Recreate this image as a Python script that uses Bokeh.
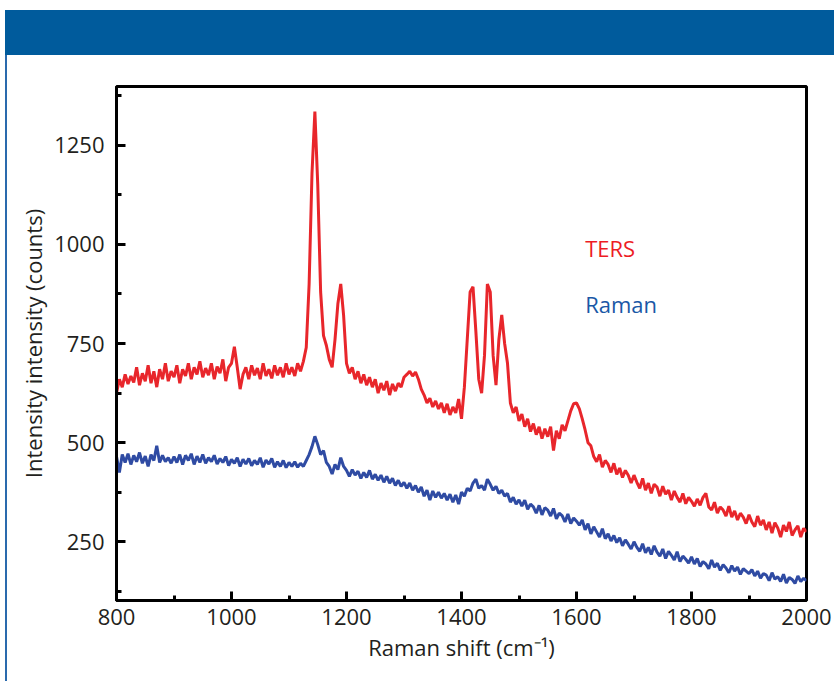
from bokeh.plotting import figure
from bokeh.models import Label, FixedTicker, Range1d, Div
from bokeh.layouts import column, row
from bokeh.embed import file_html
from bokeh.resources import INLINE

# Raman shift axis (cm^-1), sampled every 5 cm^-1
shift = list(range(800, 2001, 5))

# Tip-enhanced Raman spectrum (counts)
ters = [
    625, 660, 640, 672, 648, 668, 652, 690, 645, 675, 655, 695, 650, 680, 640, 685, 660, 700, 655, 680, 665,
    695, 650, 685, 668, 700, 660, 690, 672, 705, 665, 688, 670, 700, 660, 692, 675, 710, 655, 690, 700,
    742, 690, 635, 672, 690, 660, 695, 670, 688, 660, 700, 668, 685, 662, 695, 670, 690, 665, 700, 672,
    690, 668, 700, 680, 705, 740, 900, 1180, 1335, 1150, 880, 770, 745, 710, 690, 760, 850, 900, 820, 700,
    675, 690, 660, 680, 650, 672, 645, 665, 640, 660, 625, 650, 632, 655, 620, 648, 630, 650, 640, 665,
    672, 680, 668, 678, 660, 635, 620, 600, 612, 590, 605, 585, 600, 575, 598, 570, 590, 575, 610, 560,
    640, 760, 880, 893, 780, 660, 625, 720, 900, 880, 720, 645, 760, 822, 750, 700, 600, 575, 590, 555,
    572, 540, 560, 528, 548, 520, 540, 510, 535, 515, 540, 480, 530, 510, 545, 530, 555, 580, 598, 600,
    585, 560, 532, 500, 492, 465, 452, 470, 438, 455, 445, 425, 448, 420, 436, 412, 430, 418, 398, 418,
    400, 385, 410, 380, 398, 372, 395, 388, 365, 390, 370, 380, 355, 378, 362, 350, 372, 346, 362, 352,
    340, 358, 342, 362, 372, 338, 330, 350, 322, 338, 330, 315, 340, 312, 328, 305, 322, 312, 296, 318,
    300, 288, 315, 292, 305, 280, 300, 272, 298, 285, 262, 292, 276, 300, 266, 280, 290, 262, 284, 275,
]

# Conventional far-field Raman spectrum (counts)
raman = [
    465, 425, 470, 450, 472, 445, 468, 452, 475, 448, 466, 440, 470, 455, 492, 450, 468, 452, 462, 448, 465,
    450, 470, 445, 468, 455, 472, 445, 466, 450, 470, 448, 462, 452, 468, 446, 460, 450, 465, 442, 458,
    448, 462, 440, 458, 446, 460, 442, 455, 445, 462, 438, 456, 446, 460, 438, 452, 440, 455, 437, 450,
    440, 452, 438, 448, 440, 455, 470, 490, 516, 495, 470, 480, 450, 440, 421, 445, 432, 462, 440, 430,
    415, 432, 418, 428, 410, 425, 412, 430, 408, 420, 405, 418, 400, 415, 398, 410, 392, 405, 390, 400,
    385, 398, 380, 392, 375, 388, 365, 380, 355, 378, 362, 375, 360, 372, 355, 370, 350, 368, 345, 375,
    365, 385, 378, 398, 408, 385, 392, 380, 408, 395, 380, 390, 372, 380, 365, 372, 350, 362, 345, 356,
    340, 355, 332, 345, 338, 322, 342, 318, 336, 330, 315, 334, 308, 322, 316, 300, 320, 296, 310, 302,
    292, 305, 280, 296, 270, 288, 275, 262, 283, 258, 270, 252, 266, 248, 260, 240, 255, 244, 232, 250,
    236, 226, 245, 222, 236, 218, 240, 224, 214, 232, 208, 226, 216, 204, 225, 200, 214, 206, 196, 212,
    194, 208, 188, 200, 194, 182, 204, 186, 196, 178, 192, 184, 172, 190, 176, 186, 168, 182, 176, 170,
    180, 164, 176, 158, 170, 166, 152, 172, 156, 162, 150, 168, 146, 160, 155, 145, 164, 150, 158, 152,
]

x_major = [800, 1000, 1200, 1400, 1600, 1800, 2000]
x_minor = [900, 1100, 1300, 1500, 1700, 1900]
y_major = [250, 500, 750, 1000, 1250]
y_minor = [125, 375, 625, 875, 1125, 1375]

FONT = "Open Sans"
TEXT = "#231f20"
RED = "#e8262b"
BLUE = "#2f4ba3"
BAND = "#005b9c"
RULE = "#2a6aad"

p = figure(
    width=827, height=626,
    x_range=Range1d(800, 2000), y_range=Range1d(102, 1398),
    output_backend="svg", toolbar_location=None,
    min_border_left=109, min_border_right=28,
    min_border_top=31, min_border_bottom=81,
    margin=0,
)
p.background_fill_color = "white"
p.border_fill_color = "white"
p.xgrid.visible = False
p.ygrid.visible = False
p.outline_line_color = "black"
p.outline_line_width = 3

p.line(shift, ters, line_color=RED, line_width=3)
p.line(shift, raman, line_color=BLUE, line_width=3)

for ax, major, minor in ((p.xaxis[0], x_major, x_minor), (p.yaxis[0], y_major, y_minor)):
    ax.ticker = FixedTicker(ticks=major, minor_ticks=minor)
    ax.axis_line_color = "black"
    ax.axis_line_width = 3
    ax.major_tick_line_color = "black"
    ax.major_tick_line_width = 3
    ax.minor_tick_line_color = "black"
    ax.minor_tick_line_width = 3
    ax.major_tick_in = 9
    ax.major_tick_out = 0
    ax.minor_tick_in = 5
    ax.minor_tick_out = 0
    ax.major_label_text_font = FONT
    ax.major_label_text_font_size = "22px"
    ax.major_label_text_color = TEXT
    ax.axis_label_text_font = FONT
    ax.axis_label_text_font_size = "22px"
    ax.axis_label_text_font_style = "normal"
    ax.axis_label_text_color = TEXT

p.xaxis.axis_label = "Raman shift (cm\u207b\u00b9)"
p.yaxis.axis_label = "Intensity intensity (counts)"
p.xaxis.major_label_standoff = 8
p.yaxis.major_label_standoff = 12
p.xaxis.axis_label_standoff = 4
p.yaxis.axis_label_standoff = 3

p.add_layout(Label(x=1615, y=990, text="TERS", text_font=FONT, text_font_size="22px",
                   text_color="#ed1c24", text_baseline="alphabetic"))
p.add_layout(Label(x=1615, y=849, text="Raman", text_font=FONT, text_font_size="22px",
                   text_color="#1a58a6", text_baseline="alphabetic"))

# header band across the top of the panel
header = Div(width=834, height=55, margin=0,
             text=f'<div style="position:absolute;left:5px;top:10px;width:829px;height:45px;background-color:{BAND};"></div>')
# thin rule down the left edge of the panel
gap = Div(width=5, height=626, margin=0, text="")
rule = Div(width=2, height=626, margin=0,
           text=f'<div style="width:2px;height:626px;background-color:{RULE};"></div>')

page = column(header, row(gap, rule, p, spacing=0, margin=0), spacing=0, margin=0)

open("out.html", "w").write(file_html(page, INLINE))
